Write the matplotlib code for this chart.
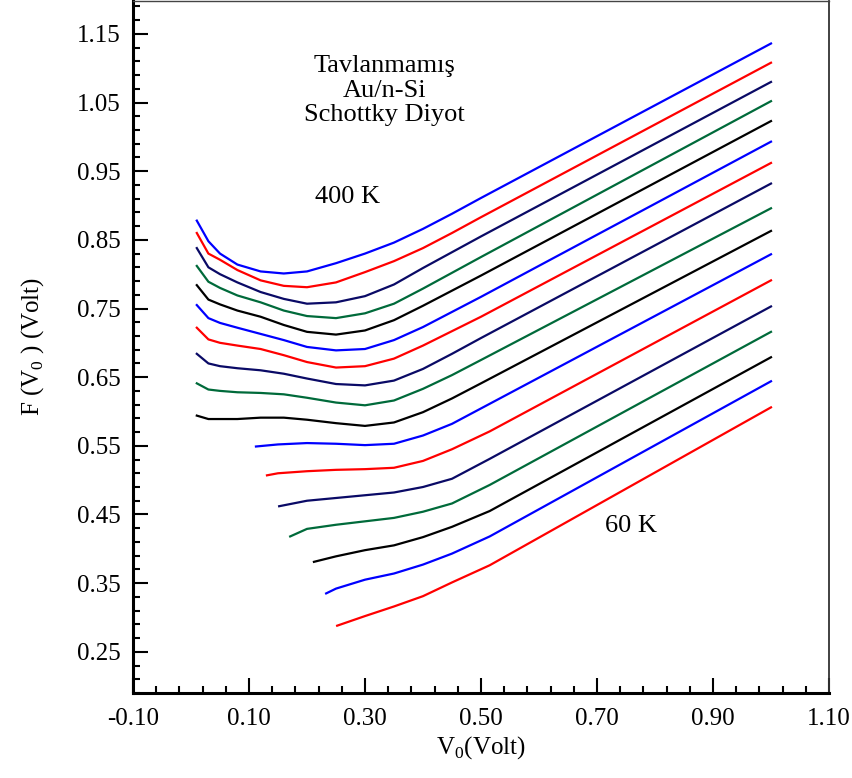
# F(V0) - V0 curves, Au/n-Si Schottky diode
import matplotlib.pyplot as plt
from matplotlib.ticker import MultipleLocator, FormatStrFormatter

plt.rcParams['font.family'] = ['Liberation Serif', 'DejaVu Serif']
plt.rcParams['mathtext.fontset'] = 'custom'
plt.rcParams['mathtext.rm'] = 'Liberation Serif'

# curves from top (400 K) to bottom (60 K)
x_top = [0.01, 0.03, 0.05, 0.08, 0.12, 0.16, 0.20, 0.25, 0.30, 0.35, 0.40, 0.45, 0.50, 1.00]

f01 = [0.878, 0.848, 0.830, 0.814, 0.804, 0.801, 0.804, 0.816, 0.830, 0.846, 0.866, 0.888, 0.911, 1.136]
f02 = [0.860, 0.830, 0.821, 0.806, 0.791, 0.783, 0.781, 0.788, 0.803, 0.819, 0.838, 0.860, 0.883, 1.108]
f03 = [0.838, 0.810, 0.800, 0.788, 0.774, 0.764, 0.757, 0.759, 0.768, 0.785, 0.809, 0.832, 0.855, 1.080]
f04 = [0.812, 0.789, 0.780, 0.769, 0.759, 0.747, 0.739, 0.736, 0.743, 0.757, 0.779, 0.802, 0.825, 1.052]
f05 = [0.784, 0.763, 0.756, 0.747, 0.738, 0.726, 0.716, 0.712, 0.718, 0.733, 0.754, 0.776, 0.798, 1.023]
f06 = [0.755, 0.736, 0.729, 0.722, 0.713, 0.704, 0.694, 0.689, 0.691, 0.704, 0.723, 0.745, 0.767, 0.993]
f07 = [0.722, 0.705, 0.700, 0.696, 0.691, 0.682, 0.672, 0.664, 0.666, 0.677, 0.696, 0.717, 0.738, 0.962]
f08 = [0.684, 0.670, 0.666, 0.663, 0.660, 0.655, 0.648, 0.640, 0.638, 0.645, 0.662, 0.684, 0.707, 0.932]
f09 = [0.641, 0.632, 0.630, 0.628, 0.627, 0.625, 0.620, 0.613, 0.609, 0.616, 0.633, 0.653, 0.675, 0.896]
f10 = [0.594, 0.589, 0.589, 0.589, 0.591, 0.591, 0.588, 0.583, 0.579, 0.584, 0.599, 0.619, 0.641, 0.863]

# lower curves start further right
x11 = [0.112, 0.15, 0.20, 0.25, 0.30, 0.35, 0.40, 0.45, 1.00]
f11 = [0.549, 0.552, 0.554, 0.553, 0.551, 0.553, 0.565, 0.582, 0.829]
x12 = [0.131, 0.15, 0.20, 0.25, 0.30, 0.35, 0.40, 0.45, 0.515, 1.00]
f12 = [0.507, 0.510, 0.513, 0.515, 0.516, 0.518, 0.528, 0.545, 0.571, 0.791]
x13 = [0.152, 0.20, 0.25, 0.30, 0.35, 0.40, 0.45, 0.515, 1.00]
f13 = [0.462, 0.470, 0.474, 0.478, 0.482, 0.490, 0.502, 0.531, 0.753]
x14 = [0.171, 0.20, 0.25, 0.30, 0.35, 0.40, 0.45, 0.515, 1.00]
f14 = [0.418, 0.429, 0.435, 0.440, 0.445, 0.454, 0.466, 0.493, 0.716]
x15 = [0.212, 0.25, 0.30, 0.35, 0.40, 0.45, 0.515, 1.00]
f15 = [0.381, 0.389, 0.398, 0.405, 0.417, 0.432, 0.455, 0.679]
x16 = [0.233, 0.25, 0.30, 0.35, 0.40, 0.45, 0.515, 1.00]
f16 = [0.335, 0.342, 0.355, 0.364, 0.377, 0.393, 0.418, 0.644]
x17 = [0.252, 0.30, 0.35, 0.40, 0.45, 0.515, 1.00]
f17 = [0.288, 0.302, 0.316, 0.331, 0.351, 0.376, 0.606]

colors = ['#0000ff', '#ff0000', '#0a0a66', '#006a3a', '#000000']

curves = [(x_top, f01), (x_top, f02), (x_top, f03), (x_top, f04), (x_top, f05),
          (x_top, f06), (x_top, f07), (x_top, f08), (x_top, f09), (x_top, f10),
          (x11, f11), (x12, f12), (x13, f13), (x14, f14), (x15, f15),
          (x16, f16), (x17, f17)]

fig = plt.figure(figsize=(8.52, 7.78), dpi=100)
ax = fig.add_axes([0.1561, 0.1093, 0.8169, 0.8895])

for i, (xs, ys) in enumerate(curves):
    ax.plot(xs, ys, color=colors[i % 5], lw=1.6, solid_joinstyle='round')

ax.set_xlim(-0.10, 1.10)
ax.set_ylim(0.19, 1.198)

# major ticks -0.10, 0.10, ... ; minor every 0.04
ax.xaxis.set_major_locator(MultipleLocator(0.2, offset=0.1))
ax.xaxis.set_minor_locator(MultipleLocator(0.04, offset=0.02))
ax.yaxis.set_major_locator(MultipleLocator(0.1, offset=0.05))
ax.yaxis.set_minor_locator(MultipleLocator(0.02, offset=0.01))
ax.xaxis.set_major_formatter(FormatStrFormatter('%.2f'))
ax.yaxis.set_major_formatter(FormatStrFormatter('%.2f'))

ax.tick_params(which='both', direction='in', top=False, right=False,
               labelsize=18, width=1.5)
ax.tick_params(axis='y', pad=9)
ax.tick_params(axis='x', pad=11)
ax.tick_params(which='major', length=11)
ax.tick_params(which='minor', length=5)

ax.spines['left'].set_linewidth(2.2)
ax.spines['bottom'].set_linewidth(2.2)
ax.spines['top'].set_linewidth(1.0)
ax.spines['right'].set_linewidth(1.3)
ax.spines['right'].set_color('#333333')
ax.spines['top'].set_color('#444444')

ax.set_xlabel('V$_0$(Volt)', fontsize=18, labelpad=3)
ax.set_ylabel('F (V$_0$ ) (Volt)', fontsize=18, labelpad=22)

ax.text(0.334, 1.067, 'Tavlanmamış\nAu/n-Si\nSchottky Diyot', fontsize=19,
        ha='center', va='center', linespacing=1.15)
ax.text(0.270, 0.912, '400 K', fontsize=19, ha='center', va='center')
ax.text(0.759, 0.433, '60 K', fontsize=19, ha='center', va='center')

plt.savefig('out.png', dpi=100)
